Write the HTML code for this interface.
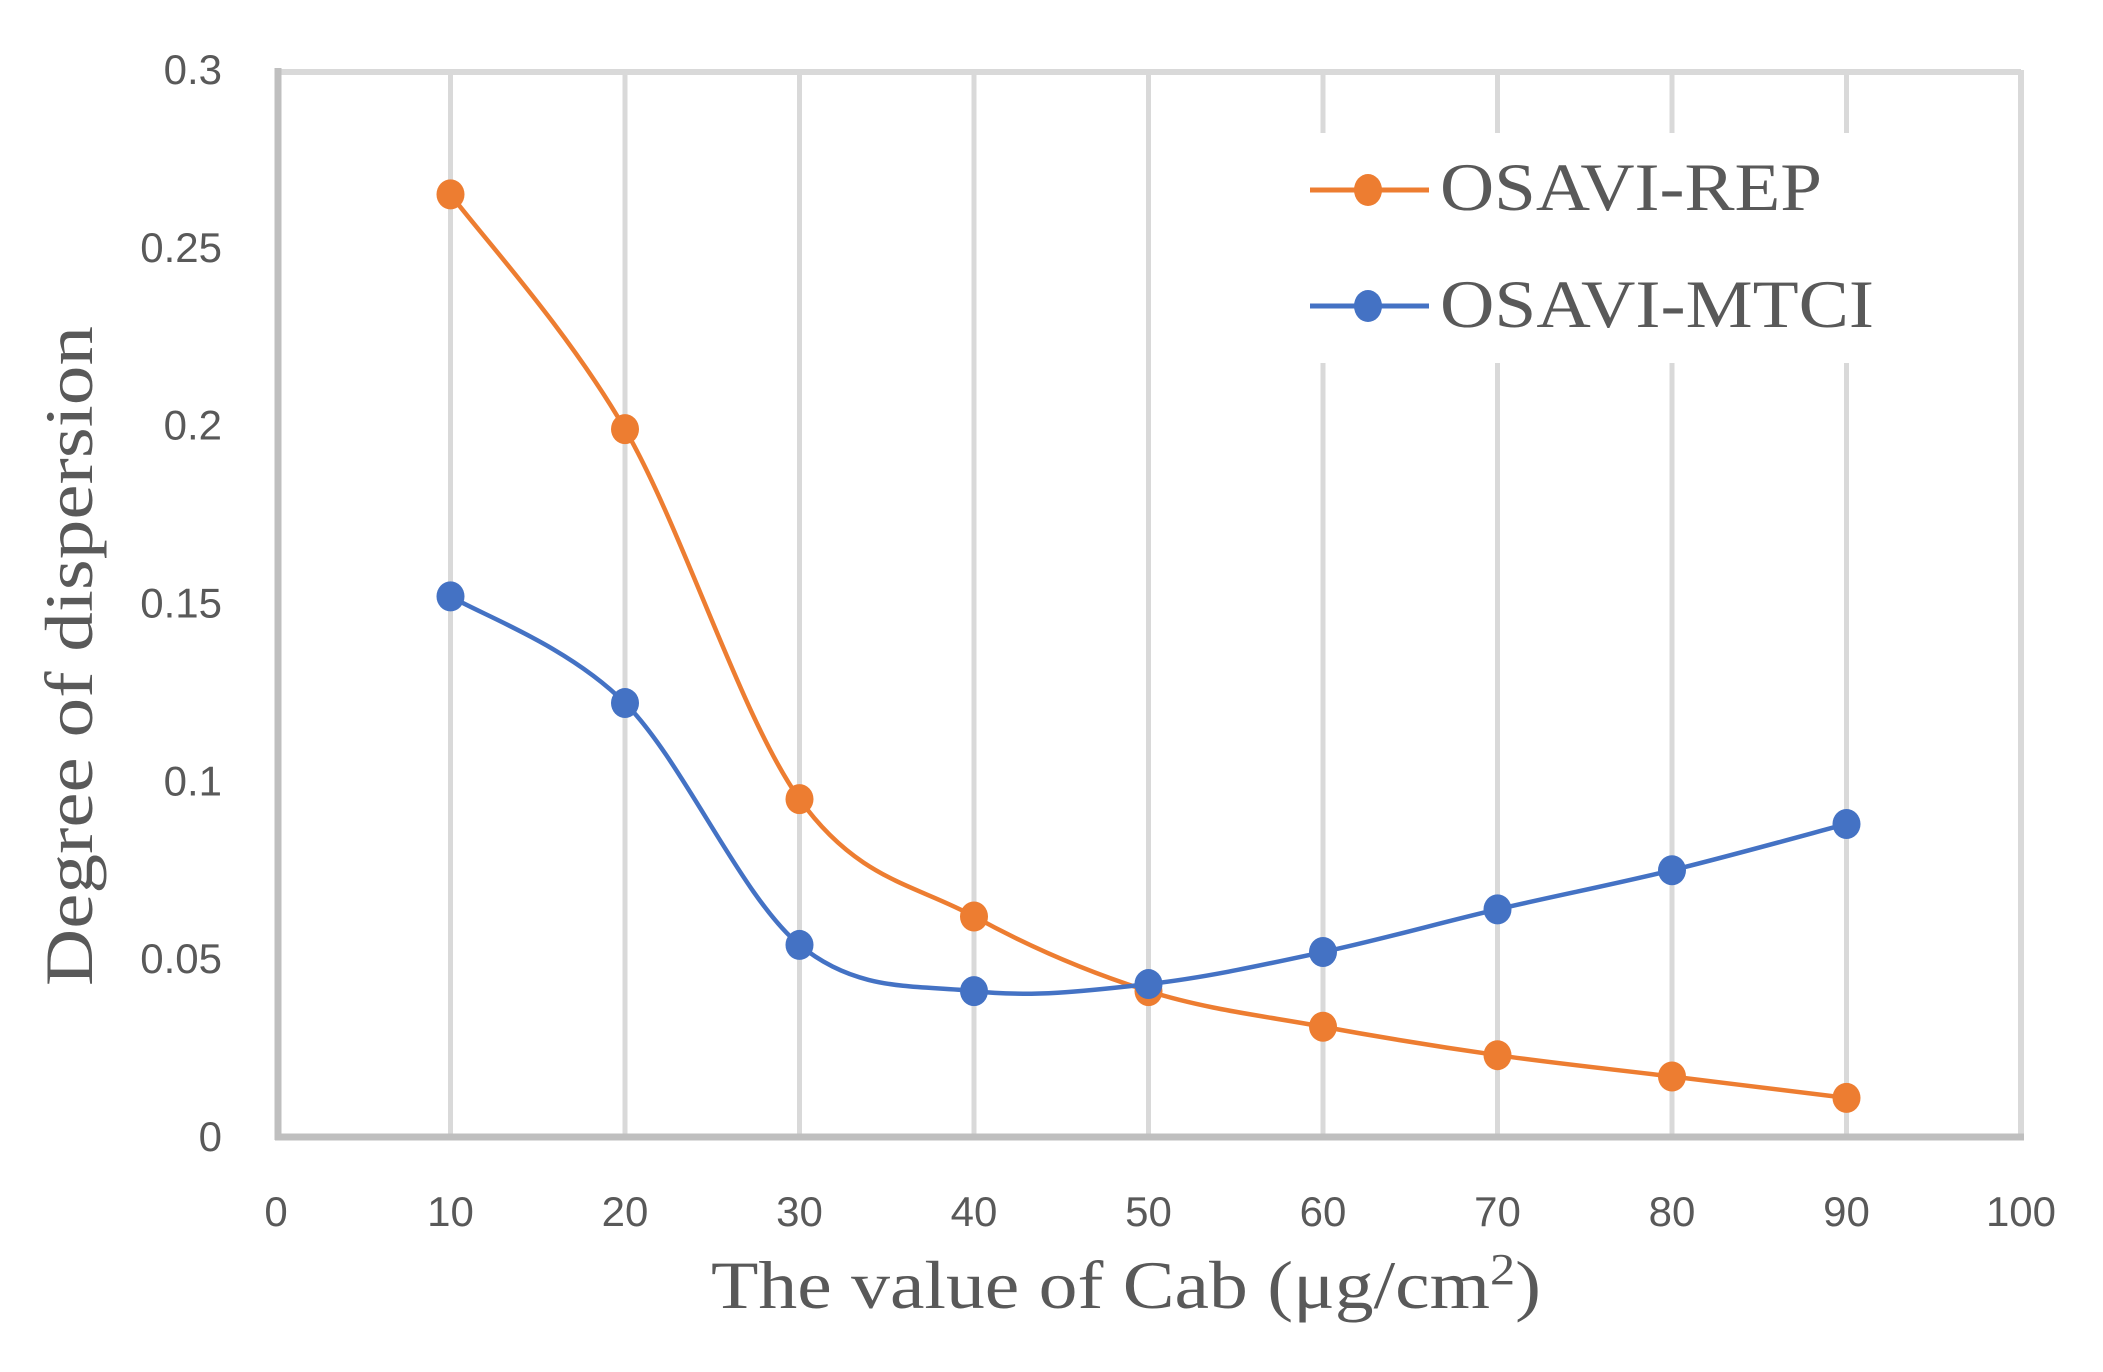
<!DOCTYPE html>
<html><head><style>body{margin:0;background:#fff}</style></head><body>
<svg id="s" width="2103" height="1367" xmlns="http://www.w3.org/2000/svg" font-family="Liberation Sans, sans-serif">
<rect width="2103" height="1367" fill="#fff"/>
<g id="grid" stroke="#d9d9d9" stroke-width="5"></g>
<rect x="1290" y="133" width="620" height="230" fill="#fff"/>
<line x1="276" y1="72" x2="2021" y2="72" stroke="#d9d9d9" stroke-width="6"/>
<line x1="2021" y1="70" x2="2021" y2="1140" stroke="#d9d9d9" stroke-width="6"/>
<line x1="278" y1="68" x2="278" y2="1140" stroke="#bfbfbf" stroke-width="7"/>
<line x1="275" y1="1137" x2="2024" y2="1137" stroke="#bfbfbf" stroke-width="7"/>
<g id="series"></g>
<g id="labels" fill="#595959" font-size="42"></g>
<line x1="1310" y1="190" x2="1429" y2="190" stroke="#ed7d31" stroke-width="5"/>
<ellipse cx="1368" cy="190" rx="14" ry="16" fill="#ed7d31"/>
<line x1="1310" y1="306" x2="1429" y2="306" stroke="#4472c4" stroke-width="5"/>
<ellipse cx="1368" cy="306" rx="14" ry="16" fill="#4472c4"/>
<text x="1440" y="210" font-family="Liberation Serif, serif" font-size="68" fill="#595959" textLength="382" lengthAdjust="spacingAndGlyphs">OSAVI-REP</text>
<text x="1440" y="327" font-family="Liberation Serif, serif" font-size="68" fill="#595959" textLength="434" lengthAdjust="spacingAndGlyphs">OSAVI-MTCI</text>
<text x="1126" y="1308" text-anchor="middle" font-family="Liberation Serif, serif" font-size="68" fill="#595959" textLength="830" lengthAdjust="spacingAndGlyphs">The value of Cab (μg/cm<tspan font-size="44" dy="-24">2</tspan><tspan dy="24">)</tspan></text>
<text transform="translate(92,656) rotate(-90)" text-anchor="middle" font-family="Liberation Serif, serif" font-size="68" fill="#595959" textLength="660" lengthAdjust="spacingAndGlyphs">Degree of dispersion</text>
</svg>
<script>
var X=function(v){return 276+v*17.45},Y=function(v){return 1137-v*3557};
var g=document.getElementById('grid'),h='';
for(var i=10;i<100;i+=10)h+='<line x1="'+X(i)+'" y1="72" x2="'+X(i)+'" y2="1137"/>';
g.innerHTML=h;
var L='';
['0','0.05','0.1','0.15','0.2','0.25','0.3'].forEach(function(t,k){L+='<text x="222" y="'+(Y(k*0.05)+14)+'" text-anchor="end">'+t+'</text>';});
for(var i=0;i<=100;i+=10)L+='<text x="'+X(i)+'" y="1226" text-anchor="middle">'+i+'</text>';
document.getElementById('labels').innerHTML=L;
function path(d){var p=d.map(function(v,i){return [X(10+i*10),Y(v)]});var s='M'+p[0];
for(var i=0;i<p.length-1;i++){var a=p[i-1]||p[i],b=p[i],c=p[i+1],e=p[i+2]||c,t=6;
s+=' C'+(b[0]+(c[0]-a[0])/t)+','+(b[1]+(c[1]-a[1])/t)+' '+(c[0]-(e[0]-b[0])/t)+','+(c[1]-(e[1]-b[1])/t)+' '+c;}return [s,p];}
var S='';
[[[0.265,0.199,0.095,0.062,0.041,0.031,0.023,0.017,0.011],'#ed7d31'],[[0.152,0.122,0.054,0.041,0.043,0.052,0.064,0.075,0.088],'#4472c4']].forEach(function(q){
var r=path(q[0]);S+='<path d="'+r[0]+'" fill="none" stroke="'+q[1]+'" stroke-width="4.5"/>';
r[1].forEach(function(p){S+='<ellipse cx="'+p[0]+'" cy="'+p[1]+'" rx="14" ry="15" fill="'+q[1]+'"/>';});});
document.getElementById('series').innerHTML=S;
</script>
</body></html>
